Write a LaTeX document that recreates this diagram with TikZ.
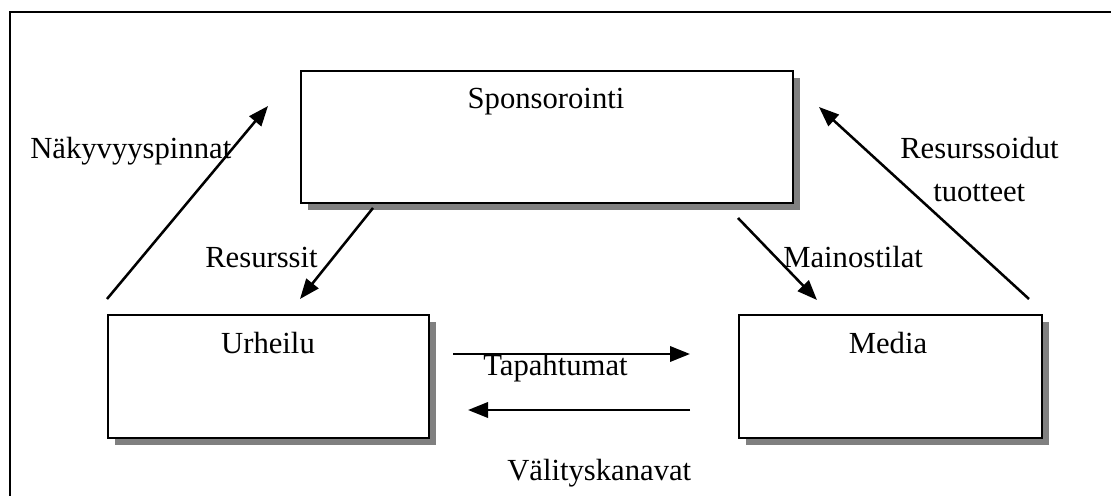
\documentclass[tikz,border=0pt]{standalone}
\usepackage{fontspec}
\setmainfont{Liberation Serif}
\usetikzlibrary{arrows.meta,shadows}
\begin{document}
\begin{tikzpicture}[x=0.75pt,y=-0.75pt,
  box/.style={draw=black,line width=1.6pt,fill=white,inner sep=0pt,
    general shadow={fill=gray,shadow xshift=5pt,shadow yshift=-5pt}},
  lbl/.style={inner sep=0pt,anchor=base west,font=\fontsize{23}{27}\selectfont},
  ttl/.style={inner sep=0pt,anchor=base,font=\fontsize{23}{27}\selectfont},
  arr/.style={line width=1.9pt,-{Triangle[length=15pt,width=11.5pt]}}]
\useasboundingbox (0,0) rectangle (1111,496);
% outer frame
\draw[line width=2pt] (10,520) -- (10,12) -- (1130,12);
% boxes
\path (300,70) node[box,anchor=north west,minimum width=369pt,minimum height=99pt] (spon) {};
\path (107,314) node[box,anchor=north west,minimum width=240.75pt,minimum height=92.25pt] (urh) {};
\path (738,314) node[box,anchor=north west,minimum width=227.25pt,minimum height=92.25pt] (med) {};
\node[ttl] (tspon) at (546,108) {Sponsorointi};
\node[ttl] (turh) at (268,353) {Urheilu};
\node[ttl] (tmed) at (888,353) {Media};
% arrow end points
\coordinate (a1s) at (107,299); \coordinate (a1e) at (268,106);
\coordinate (a2s) at (373,208); \coordinate (a2e) at (300,299);
\coordinate (a3s) at (738,218); \coordinate (a3e) at (817,300);
\coordinate (a4s) at (1029,299); \coordinate (a4e) at (819,107);
\coordinate (a5s) at (453,354); \coordinate (a5e) at (690,354);
\coordinate (a6s) at (690,410); \coordinate (a6e) at (468,410);
\draw[arr] (a1s) -- (a1e);
\draw[arr] (a2s) -- (a2e);
\draw[arr] (a3s) -- (a3e);
\draw[arr] (a4s) -- (a4e);
\draw[arr] (a5s) -- (a5e);
\draw[arr] (a6s) -- (a6e);
% labels
\node[lbl] (l1) at (30,158) {Näkyvyyspinnat};
\node[lbl] (l2) at (205,267) {Resurssit};
\node[lbl] (l3) at (783,267) {Mainostilat};
\node[lbl] (l4) at (900,158) {Resurssoidut};
\node[lbl] (l5) at (933,201) {tuotteet};
\node[lbl] (l6) at (483,375) {Tapahtumat};
\node[lbl] (l7) at (507,480) {Välityskanavat};
\end{tikzpicture}
\end{document}
